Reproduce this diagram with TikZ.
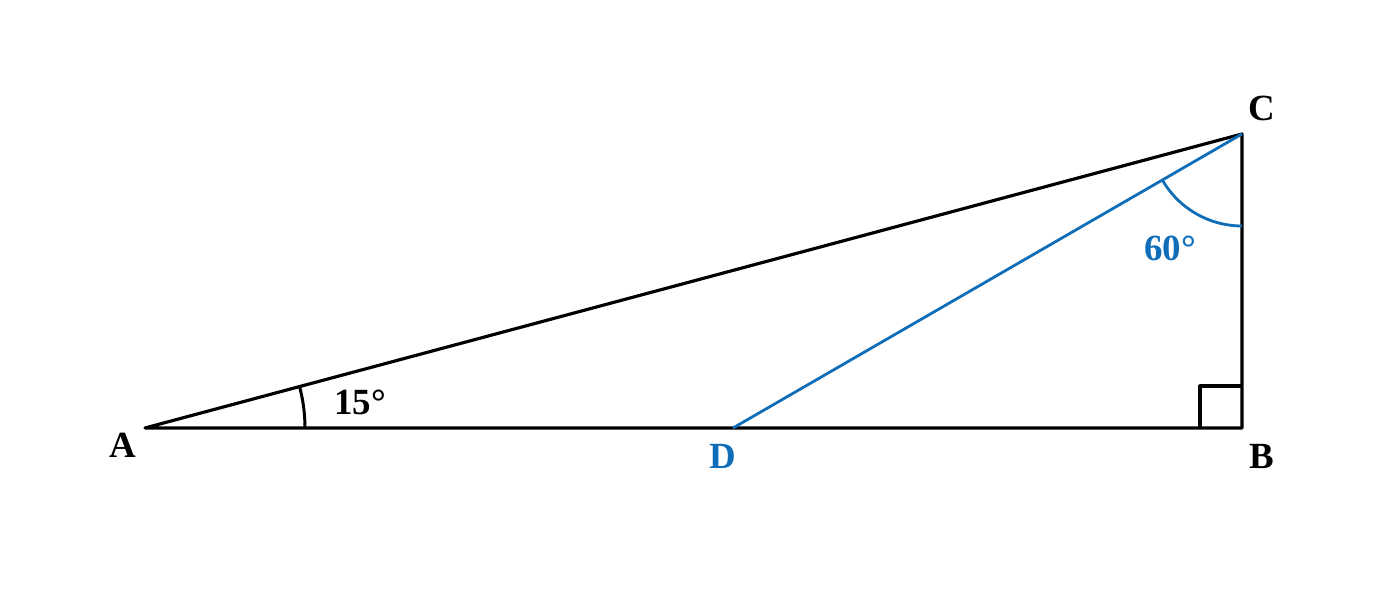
\documentclass[tikz,border=0pt]{standalone}
\usepackage{fontspec}
\setmainfont{Liberation Serif}
\definecolor{segblue}{RGB}{16,110,184}
\begin{document}
\begin{tikzpicture}[x=0.02cm, y=0.02cm, line join=round,
	lbl/.style={font=\fontsize{21}{25}\selectfont\bfseries}]
	\useasboundingbox (0,0) rectangle (1400,597);
	\coordinate (A) at (145,169);
	\coordinate (B) at (1242,169);
	\coordinate (C) at (1242,463);
	\coordinate (D) at (733,169);
	% triangle
	\draw [line width=1.8pt] (A)--(B)--(C)--cycle;
	\draw [line width=1.8pt] (1200,169)--(1200,211)--(1242,211);
	\draw [line width=1.7pt] (305,169) arc [start angle=0, end angle=15, radius=3.2cm];
	% blue segment
	\draw [segblue, line width=1.6pt] (D)--(C);
	\draw [segblue, line width=1.6pt] (1242,371) arc [start angle=270, end angle=210, radius=1.84cm];
	\node [lbl] (la) at (123,152) {A};
	\node [lbl] (lb) at (1262,141) {B};
	\node [lbl] (lc) at (1262,489) {C};
	\node [lbl, segblue] (ld) at (723,141) {D};
	\node [lbl] (l15) at (360,195) {15°};
	\node [lbl, segblue] (l60) at (1170,349) {60°};
\end{tikzpicture}
\end{document}
